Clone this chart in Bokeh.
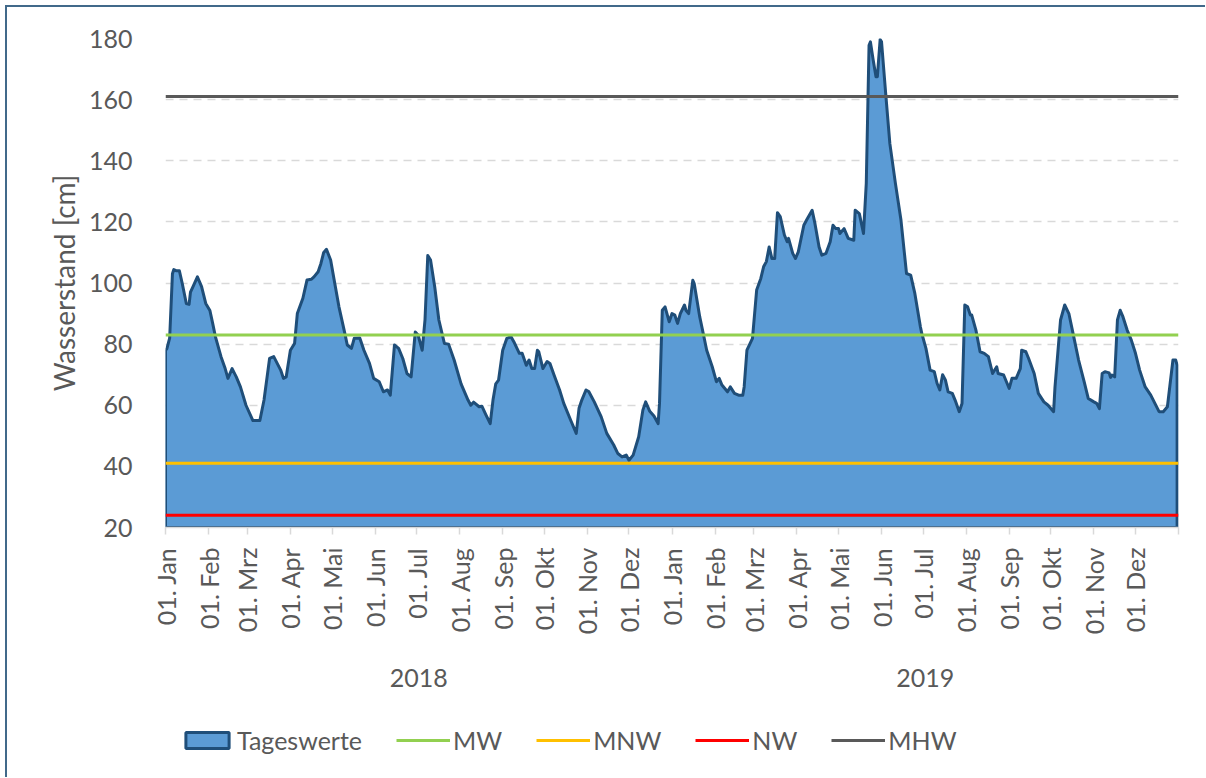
import math
import pandas as pd
from bokeh.plotting import figure
from bokeh.layouts import column
from bokeh.models import LinearAxis, FixedTicker, Legend, LegendItem, Range1d
from bokeh.embed import file_html
from bokeh.resources import INLINE

# ---------------- data ----------------
start = pd.Timestamp("2018-01-01")

# day index since 01.01.2018 and daily water level [cm]
tag = [0, 1, 3, 5, 6, 8, 10, 12, 15, 17, 18, 20, 23, 26, 29, 32, 34, 36, 40, 43,
       45, 48, 51, 54, 58, 63, 68, 71, 75, 78, 83, 85, 87, 90, 93, 95, 99, 102, 105, 107,
       110, 112, 114, 116, 119, 122, 125, 129, 131, 134, 136, 140, 143, 147, 150, 154, 157, 160, 162, 165,
       168, 171, 174, 177, 180, 182, 185, 187, 189, 191, 194, 197, 201, 204, 208, 213, 218, 220, 222, 226,
       228, 231, 234, 236, 238, 240, 243, 246, 249, 251, 255, 257, 260, 262, 264, 266, 268, 269, 272, 275,
       277, 280, 284, 287, 292, 296, 298, 300, 303, 305, 309, 314, 318, 323, 326, 329, 332, 334, 337, 341,
       344, 346, 349, 352, 355, 356, 358, 360, 363, 365, 367, 369, 371, 374, 375, 377, 380, 381, 385, 388,
       390, 394, 397, 399, 401, 405, 407, 410, 413, 416, 417, 419, 423, 426, 429, 431, 433, 435, 437, 439,
       441, 443, 446, 448, 449, 452, 454, 456, 460, 462, 466, 468, 471, 473, 476, 479, 481, 483, 485, 486,
       489, 492, 496, 497, 500, 503, 505, 507, 508, 510, 512, 513, 515, 516, 519, 522, 526, 530, 534, 537,
       540, 544, 545, 548, 551, 554, 556, 558, 560, 562, 564, 567, 569, 572, 574, 576, 578, 580, 581, 584,
       587, 590, 593, 596, 599, 600, 604, 606, 608, 610, 613, 616, 617, 620, 622, 626, 629, 633, 636, 640,
       641, 643, 645, 648, 651, 654, 658, 662, 665, 669, 671, 673, 675, 677, 680, 681, 682, 684, 686, 688,
       690, 693, 696, 699, 702, 706, 710, 713, 716, 719, 722, 724, 726, 728, 729]
wasserstand = [78, 78.5, 82, 103, 104.4, 104, 104, 100, 93.3, 93, 97, 99, 102, 98.8, 93.3, 91, 86.8, 82.4, 75.9, 72,
               68.8, 72, 69.3, 66, 60, 55, 55, 61.7, 75.3, 75.9, 71.5, 68.8, 69.3, 78, 80.2, 90, 95, 101, 101.2, 102,
               103.7, 106.4, 110, 111, 107.5, 99.8, 92.2, 84, 79.7, 78.6, 81.9, 82, 78, 73.7, 68.8, 67.7, 64.4, 65, 63.3, 79.7,
               78.6, 75.3, 70.4, 69.3, 84, 83, 78, 87.9, 109, 107.5, 98.8, 87.9, 80.2, 80, 74.8, 67, 61.7, 60, 61, 59.5,
               59.7, 56.8, 54, 61.7, 67, 68.2, 78, 81.9, 82.4, 80.8, 77, 77, 73.1, 74.8, 72, 72, 78, 77.5, 72, 74.3,
               73.7, 69.9, 65, 60.6, 55.1, 50.8, 59, 61.7, 65, 64.5, 61.1, 56.2, 50.8, 47, 44.2, 43.1, 43.7, 42, 43.7, 49.7,
               58.4, 61.1, 58, 56.5, 54, 60.6, 91.1, 92.2, 87.3, 90, 89.5, 86.8, 90, 92.8, 91.1, 90, 100.9, 99.8, 88.9, 82.4,
               78, 72.6, 67.7, 68.8, 66.6, 64.4, 66, 63.9, 63.3, 63.3, 66, 78, 81.9, 97.7, 101.5, 105.3, 107, 111.8, 108, 108,
               123, 121.7, 115.7, 113.5, 114.6, 109.7, 108, 110.2, 118.9, 120.6, 123.8, 119.5, 111.8, 109.1, 109.7, 113.5, 118.9, 117.8, 117.8, 116.2,
               117.8, 114.6, 114, 123.8, 122.7, 116.2, 132.6, 177.8, 178.9, 172.9, 167.5, 167.5, 179.7, 178.9, 162, 145.6, 132.6, 120.6, 103.1, 102.6,
               96.6, 85.7, 83.5, 78.6, 71.5, 71, 67.2, 65, 70, 68.3, 64.4, 63.9, 61.7, 57.9, 60.6, 92.8, 92.2, 89.5, 89.5, 84.6,
               77.5, 77, 75.9, 70.4, 72.6, 70.4, 69.9, 67.7, 65.5, 68.8, 68.8, 72, 78, 77.5, 75.3, 70.4, 63.9, 61.1, 60, 57.9,
               66, 77, 87.9, 92.8, 90, 83.5, 74.8, 67.7, 62.2, 61.1, 60.6, 58.9, 70.4, 71, 70.6, 69.1, 69.9, 69.3, 87.9, 91.1,
               88.9, 84.6, 81.3, 77, 71.5, 66, 63.3, 60.6, 57.9, 57.9, 59.5, 67.2, 74.8, 74.8, 73.1]

# reference levels [cm]
MW = 83
MNW = 41
NW = 24
MHW = 161

monate = ["01. Jan", "01. Feb", "01. Mrz", "01. Apr", "01. Mai", "01. Jun",
          "01. Jul", "01. Aug", "01. Sep", "01. Okt", "01. Nov", "01. Dez"]
jahre = ["2018", "2019"]
y_ticks = [20, 40, 60, 80, 100, 120, 140, 160, 180]
y_titel = "Wasserstand [cm]"

# ---------------- axis geometry (derived from calendar) ----------------
month_starts = pd.date_range("2018-01-01", "2019-12-01", freq="MS")
month_ticks = [(d - start).days for d in month_starts]
x_end = (pd.Timestamp("2020-01-01") - start).days
year_starts = [(pd.Timestamp(f"{j}-01-01") - start).days for j in jahre] + [x_end]
year_mid = [(year_starts[i] + year_starts[i + 1]) / 2 for i in range(len(jahre))]
y_min, y_max = y_ticks[0], y_ticks[-1]

TXT = "#595959"
FONT = "Lato"
FS = "25px"
C_AREA, C_EDGE = "#5B9BD5", "#1F4E79"
C_MW, C_MNW, C_NW, C_MHW = "#92D050", "#FFC000", "#FF0000", "#595959"

p = figure(width=1198, height=700, output_backend="svg", toolbar_location=None,
           x_range=Range1d(0, x_end), y_range=Range1d(y_min, y_max),
           min_border_left=158, min_border_right=27, min_border_top=31, min_border_bottom=180,
           x_axis_location=None, y_axis_location="left")
p.outline_line_color = None
p.background_fill_color = "white"
p.border_fill_color = "white"

# y axis
ya = p.yaxis[0]
ya.ticker = FixedTicker(ticks=y_ticks)
ya.axis_line_color = None
ya.major_tick_line_color = None
ya.minor_tick_line_color = None
ya.major_label_standoff = 27
ya.major_label_text_font = FONT
ya.major_label_text_font_size = FS
ya.major_label_text_color = TXT
ya.axis_label = y_titel
ya.axis_label_standoff = 5
ya.axis_label_text_font = FONT
ya.axis_label_text_font_size = "28px"
ya.axis_label_text_font_style = "normal"
ya.axis_label_text_color = TXT

p.ygrid.ticker = FixedTicker(ticks=y_ticks)
p.ygrid.grid_line_color = "#D9D9D9"
p.ygrid.grid_line_dash = "8 6"
p.ygrid.grid_line_width = 1.5
p.xgrid.visible = False

# x axis (months)
xa = LinearAxis(ticker=FixedTicker(ticks=month_ticks + [x_end]))
labels = {t: monate[i % 12] for i, t in enumerate(month_ticks)}
labels[x_end] = ""
xa.major_label_overrides = labels
xa.major_label_orientation = math.pi / 2
xa.axis_line_color = "#D9D9D9"
xa.axis_line_width = 1.5
xa.major_tick_line_color = "#D9D9D9"
xa.major_tick_line_width = 1.5
xa.major_tick_out = 7
xa.major_tick_in = 0
xa.minor_tick_line_color = None
xa.major_label_standoff = 13
xa.major_label_text_font = FONT
xa.major_label_text_font_size = FS
xa.major_label_text_color = TXT
p.add_layout(xa, "below")

# x axis (years)
ja = LinearAxis(ticker=FixedTicker(ticks=year_mid))
ja.major_label_overrides = {m: j for m, j in zip(year_mid, jahre)}
ja.axis_line_color = None
ja.major_tick_line_color = None
ja.minor_tick_line_color = None
ja.major_label_standoff = 25
ja.major_label_text_font = FONT
ja.major_label_text_font_size = FS
ja.major_label_text_color = TXT
p.add_layout(ja, "below")

# area + reference lines
xs = [tag[0]] + tag + [tag[-1]]
ys = [y_min] + wasserstand + [y_min]
p.patch(xs, ys, fill_color=C_AREA, line_color=C_EDGE, line_width=3, line_join="round")
p.line([0, x_end], [MW, MW], line_color=C_MW, line_width=3)
p.line([0, x_end], [MNW, MNW], line_color=C_MNW, line_width=3)
p.line([0, x_end], [NW, NW], line_color=C_NW, line_width=3)
p.line([0, x_end], [MHW, MHW], line_color=C_MHW, line_width=3)

# ---------------- legend strip (same series, ranges chosen so only the legend shows) ----------------
pl = figure(width=1198, height=70, output_backend="svg", toolbar_location=None,
            x_range=Range1d(-2 * x_end, -x_end), y_range=Range1d(-2 * y_max, -y_max),
            min_border=0, x_axis_location=None, y_axis_location=None)
pl.outline_line_color = None
pl.grid.visible = False
pl.background_fill_color = "white"
pl.border_fill_color = "white"

g_area = pl.patch(xs, ys, fill_color=C_AREA, line_color=C_EDGE, line_width=3)
g_mw = pl.line([0, x_end], [MW, MW], line_color=C_MW, line_width=3)
g_mnw = pl.line([0, x_end], [MNW, MNW], line_color=C_MNW, line_width=3)
g_nw = pl.line([0, x_end], [NW, NW], line_color=C_NW, line_width=3)
g_mhw = pl.line([0, x_end], [MHW, MHW], line_color=C_MHW, line_width=3)

legend = Legend(items=[LegendItem(label="Tageswerte", renderers=[g_area]),
                       LegendItem(label="MW", renderers=[g_mw]),
                       LegendItem(label="MNW", renderers=[g_mnw]),
                       LegendItem(label="NW", renderers=[g_nw]),
                       LegendItem(label="MHW", renderers=[g_mhw])],
                orientation="horizontal", location=(15, 22))
legend.margin = 0
legend.padding = 0
legend.spacing = 34
legend.glyph_width = 54
legend.glyph_height = 20
legend.label_standoff = 3
legend.label_text_font = FONT
legend.label_text_font_size = FS
legend.label_text_color = TXT
legend.border_line_color = None
legend.background_fill_alpha = 0
pl.add_layout(legend, "center")

layout = column(p, pl, spacing=0,
                styles={"border-left": "2px solid #41698A", "border-top": "2px solid #41698A",
                        "margin-left": "5px", "margin-top": "5px"})

open("out.html", "w").write(file_html(layout, INLINE))
